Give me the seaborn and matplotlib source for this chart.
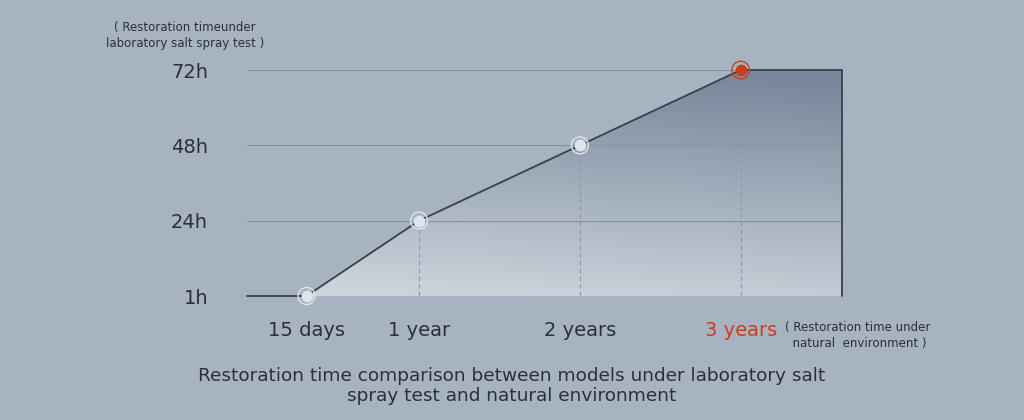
import numpy as np
import matplotlib
matplotlib.use("Agg")
import matplotlib.pyplot as plt
import seaborn as sns
import pandas as pd
from matplotlib.patches import Polygon

categories = ["15 days", "1 year", "2 years", "3 years"]
x_pos = [0.37, 1.07, 2.07, 3.07]
levels = [0, 1, 2, 3]
y_labels = ["1h", "24h", "48h", "72h"]

sns.set_theme(style="white")
plt.rcParams['font.family'] = ['DejaVu Sans']
bg = "#a8b3c1"
fig = plt.figure(figsize=(10.24, 4.2), dpi=100, facecolor=bg)
ax = fig.add_axes([247/1024, 1-296/420, (842-247)/1024, (296-70)/420])
ax.set_facecolor(bg)
XMAX = 3.7
ax.set_xlim(0, XMAX)
ax.set_ylim(0, 3)

px = [0] + x_pos + [XMAX, XMAX, 0]
py = [0] + levels + [3, 0, 0]
poly = Polygon(np.column_stack([px, py]), closed=True, transform=ax.transData, facecolor="none", edgecolor="none")
ax.add_patch(poly)
gx, gy = np.meshgrid(np.linspace(0, 1, 200), np.linspace(0, 1, 200))
t = np.clip(0.95 * gy + 0.15 * gx - 0.05, 0, 1)
c_lo = np.array([0.80, 0.83, 0.86])
c_hi = np.array([0.47, 0.53, 0.61])
img = c_lo[None, None, :] * (1 - t[..., None]) + c_hi[None, None, :] * t[..., None]
im = ax.imshow(img, extent=[0, XMAX, 0, 3], origin="lower", aspect="auto", zorder=1)
im.set_clip_path(poly)

for lv in levels[1:]:
    ax.axhline(lv, color="#8893a2", lw=0.8, zorder=2)
for xv, lv in zip(x_pos[1:], levels[1:]):
    ax.plot([xv, xv], [0, lv], color="#8c97a6", lw=0.8, ls=(0, (4, 3)), zorder=2)

df = pd.DataFrame({"x": [0] + x_pos + [XMAX, XMAX], "y": [0] + levels + [3, 0]})
ax.plot(df.x, df.y, color="#3a4048", lw=1.3, zorder=3, clip_on=False)

for xv, lv, c in zip(x_pos, levels, categories):
    if c == "3 years":
        ax.scatter([xv], [lv], s=160, facecolor="none", edgecolor="#c8401a", lw=1, zorder=4, clip_on=False)
        ax.scatter([xv], [lv], s=55, color="#c8401a", zorder=5, clip_on=False)
    else:
        ax.scatter([xv], [lv], s=150, facecolor="none", edgecolor="#dde3ea", lw=1, zorder=4, clip_on=False)
        ax.scatter([xv], [lv], s=55, color="#dfe4ea", zorder=5, clip_on=False)

for s in ax.spines.values():
    s.set_visible(False)
ax.set_xticks(x_pos)
ax.set_xticklabels(categories, fontsize=14, color="#2b2f36")
ax.get_xticklabels()[3].set_color("#c8401a")
ax.set_yticks(levels)
ax.set_yticklabels(y_labels, fontsize=14, color="#2b2f36")
ax.tick_params(length=0, pad=18)
ax.tick_params(axis="y", pad=28)

fig.text(185/1024, 1-36/420, "( Restoration timeunder\nlaboratory salt spray test )", ha="center", va="center",
         fontsize=8.5, color="#2b2f36", linespacing=1.3)
fig.text(785/1024, 1-335/420, "( Restoration time under\n  natural  environment )", ha="left", va="center",
         fontsize=8.5, color="#2b2f36", linespacing=1.3)
fig.text(512/1024, 1-386/420, "Restoration time comparison between models under laboratory salt\nspray test and natural environment",
         ha="center", va="center", fontsize=13.3, color="#2b2f36", linespacing=1.2)

fig.savefig("out.png", dpi=100, facecolor=bg)
